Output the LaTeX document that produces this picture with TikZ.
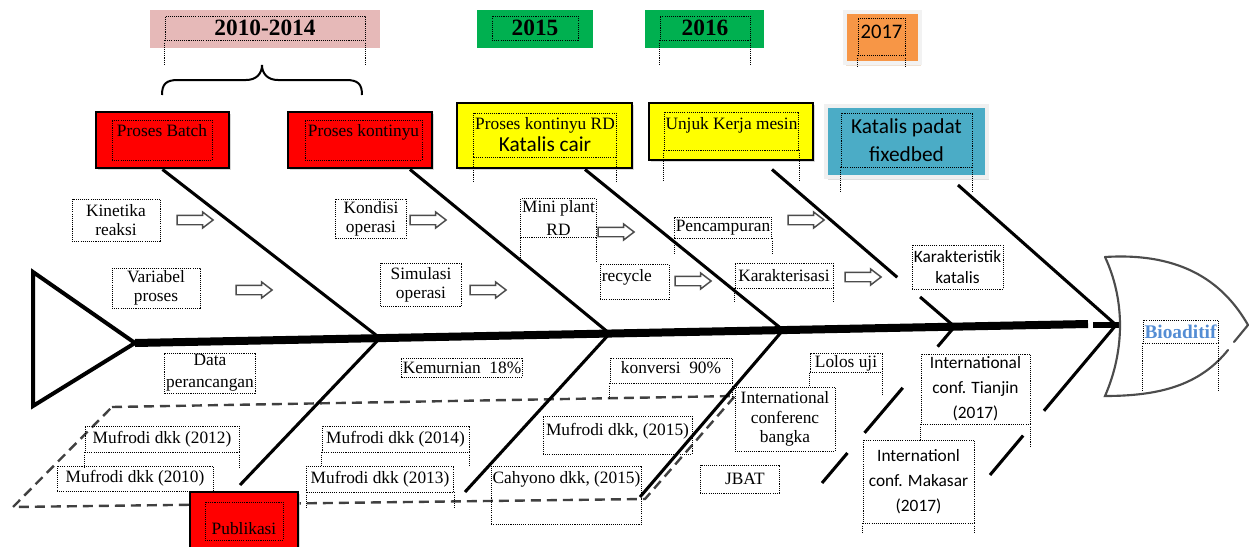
\documentclass[tikz,border=0pt]{standalone}
\usepackage{fontspec}
\setmainfont{Liberation Serif}
\newfontfamily\calfont{Carlito}
\usetikzlibrary{shapes.arrows, calc, shadows}

\definecolor{yrpink}{RGB}{230,185,184}
\definecolor{yrgreen}{RGB}{0,176,80}
\definecolor{yrorange}{RGB}{247,150,70}
\definecolor{catred}{RGB}{255,0,0}
\definecolor{catyellow}{RGB}{255,255,0}
\definecolor{catblue}{RGB}{75,172,198}
\definecolor{bioblue}{RGB}{84,141,212}

\begin{document}
\begin{tikzpicture}[x=0.75pt, y=-0.75pt,
    boxsz/.style 2 args={minimum width=#1*0.75pt, minimum height=#2*0.75pt},
    tbox/.style={draw, line width=0.6pt, dash pattern=on 0.8pt off 0.8pt, inner sep=1pt, align=center,
        font=\fontsize{13}{14.5}\selectfont},
    cbox/.style={tbox, font=\calfont\fontsize{13}{18.75}\selectfont},
    tdot/.style={line width=0.6pt, dash pattern=on 0.8pt off 0.8pt},
    catbox/.style={draw, line width=2.2pt, drop shadow={shadow xshift=1.3pt, shadow yshift=-1.3pt, fill=gray!45, opacity=0.7}},
    yrfont/.style={font=\fontsize{17.5}{20}\selectfont\bfseries},
    bone/.style={line width=2.3pt},
    harrow/.style={single arrow, draw=black!70, fill=white, line width=1.1pt, minimum height=27pt,
        inner sep=3pt, single arrow head extend=2.5pt, single arrow tip angle=75},
    pubdash/.style={line width=1.8pt, draw=black!75, dash pattern=on 7.5pt off 4.5pt},
    headln/.style={line width=1.6pt, draw=black!70, line cap=round},
    ]
    \useasboundingbox (0,0) rectangle (1249,546);

    % Publikasi region
    \coordinate (pg1) at (112,407);
    \coordinate (pg2) at (735,396);
    \coordinate (pg3) at (645,499);
    \coordinate (pg4) at (13,507);
    \draw[pubdash] (pg1) -- (pg2) -- (pg3) -- (pg4) -- cycle;

    % Year boxes
    \node[fill=yrpink, boxsz={230}{38}] (yr1bg) at (265,29) {};
    \node[tbox, yrfont, boxsz={200}{24}] (yr1) at (265,28) {2010-2014};
    \draw[tdot] (yr1.south west) -- ++(0,25) (yr1.south east) -- ++(0,25);
    \node[fill=yrgreen, boxsz={116}{38}] (yr2bg) at (535,29) {};
    \node[tbox, yrfont, boxsz={86}{24}] (yr2) at (535,28) {2015};
    \node[fill=yrgreen, boxsz={119}{38}] (yr3bg) at (704.5,29) {};
    \node[tbox, yrfont, boxsz={90}{24}] (yr3) at (705,28) {2016};
    \draw[tdot] (yr3.south west) -- ++(0,25) (yr3.south east) -- ++(0,25);
    \node[fill=yrorange, draw=gray!10, line width=3pt, boxsz={75}{51},
        drop shadow={shadow xshift=0.5pt, shadow yshift=-2.5pt, fill=brown!45}] (yr4bg) at (882.5,37.5) {};
    \node[tbox, font=\calfont\fontsize{15.5}{18}\selectfont, boxsz={47}{37}, text depth=6.8pt] (yr4) at (881.5,36.5) {2017};
    \draw[tdot] (yr4.south west) -- ++(0,11) (yr4.south east) -- ++(0,11);

    % brace over the first two boxes
    \draw[line width=1.5pt] (162,95) .. controls (162,84) and (166,80) .. (178,80) -- (246,80)
        .. controls (256,80) and (262,74) .. (262,65) .. controls (262,74) and (268,80) .. (278,80)
        -- (346,80) .. controls (358,80) and (362,84) .. (362,95);

    % Spine points
    \coordinate (tailtip) at (135,343);
    \coordinate (spend) at (1088,324);
    \coordinate (j1) at ($(tailtip)!0.257!(spend)$);
    \coordinate (j2) at ($(tailtip)!0.498!(spend)$);
    \coordinate (j3) at ($(tailtip)!0.680!(spend)$);
    \coordinate (j4) at ($(tailtip)!0.860!(spend)$);
    \coordinate (j5) at (1116,325);
    \coordinate (q1) at (240,485);
    \coordinate (q2) at (465,492);
    \coordinate (q3) at (640,497);
    \coordinate (q4) at (822,483);
    \coordinate (q5) at (990,475);

    % Category boxes
    \node[catbox, fill=catred, boxsz={133}{56}] (batch) at (162.5,140) {};
    \node[tbox, boxsz={100}{40}, text depth=15pt] (batchtx) at (162,140) {Proses Batch};
    \node[catbox, fill=catred, boxsz={144}{56}] (kont) at (360,140) {};
    \node[tbox, boxsz={117}{40}, text depth=15pt] (konttx) at (363.5,140) {Proses kontinyu};
    \node[catbox, fill=catyellow, boxsz={175}{65}] (rd) at (544.5,135.5) {};
    \node[tbox, boxsz={140}{44}] (rdtx) at (545,135) {Proses kontinyu RD\\[2pt]{\calfont\fontsize{16}{18}\selectfont Katalis cair}};
    \draw[tdot] (rdtx.south west) -- ++(0,24) (rdtx.south east) -- ++(0,24);
    \node[catbox, fill=catyellow, boxsz={164}{57}] (unjuk) at (731,131.5) {};
    \node[tbox, boxsz={131}{38}, text depth=12pt] (unjuktx) at (731.5,131) {Unjuk Kerja mesin};
    \draw[tdot] (unjuktx.south west) -- ++(0,31) (unjuktx.south east) -- ++(0,31);
    \node[fill=catblue, draw=gray!12, line width=3pt, boxsz={161}{71},
        drop shadow={shadow xshift=1.5pt, shadow yshift=-2.5pt, fill=gray!50}] (padat) at (906.5,141.5) {};
    \node[tbox, font=\calfont\fontsize{16}{21}\selectfont, boxsz={131}{54}] (padattx) at (906.5,140) {Katalis padat\\fixedbed};
    \draw[tdot] (padattx.south west) -- ++(0,25) (padattx.south east) -- ++(0,25);

    % Bones
    \draw[bone] (batch.south) -- (j1);
    \draw[bone] ([xshift=37.5pt]kont.south) -- (j2);
    \draw[bone] ([xshift=30.4pt]rd.south) -- (j3);
    \coordinate (u4) at ([xshift=30.75pt,yshift=-6pt]unjuk.south);
    \draw[bone] (u4) -- ($(u4)!0.686!(j4)$) ($(u4)!0.811!(j4)$) -- (j4);
    \draw[bone] ([xshift=38.6pt,yshift=-4.5pt]padat.south) -- (j5);
    \draw[bone] (j1) -- (q1);
    \draw[bone] (j2) -- (q2);
    \draw[bone] (j3) -- (q3);
    \draw[bone] (j4) -- ($(j4)!0.128!(q4)$) ($(j4)!0.391!(q4)$) -- ($(j4)!0.679!(q4)$) ($(j4)!0.808!(q4)$) -- (q4);
    \draw[bone] (j5) -- ($(j5)!0.572!(q5)$) ($(j5)!0.737!(q5)$) -- (q5);

    % Tail and spine
    \draw[line width=3pt, line join=miter] (33,272) -- (tailtip) -- (33,406) -- cycle;
    \draw[line width=6pt] (tailtip) -- (spend);
    \coordinate (nk1) at (1093,325);
    \coordinate (nk2) at (1120,325);
    \draw[line width=4.5pt] (nk1) -- (nk2);

    % Head
    \draw[headln] (1105,257) .. controls (1185,252) and (1225,285) .. (1248,325) -- (1234,342);
    \draw[headln] (1228,350) .. controls (1200,385) and (1160,396) .. (1105,396)
        .. controls (1125,350) and (1125,300) .. (1105,257);
    \node[tbox, font=\fontsize{14.5}{16}\selectfont\bfseries, text=bioblue, boxsz={75}{23}] (bio) at (1180.5,331.5) {Bioaditif};
    \draw[tdot] (bio.south west) -- ++(0,49) (bio.south east) -- ++(0,49);

    % Causes above the spine
    \node[tbox, boxsz={88}{42}] (kin) at (116,220) {Kinetika\\reaksi};
    \node[tbox, boxsz={88}{40}] (var) at (156,288) {Variabel\\proses};
    \node[tbox, boxsz={71}{39}] (kond) at (371,218.5) {Kondisi\\operasi};
    \node[tbox, boxsz={81}{43}] (sim) at (421,284.5) {Simulasi\\operasi};
    \node[tbox, boxsz={71}{39}] (mini) at (558.5,218) {Mini plant\\[2.5pt]RD};
    \draw[tdot] (mini.south west) -- ++(0,24) (mini.south east) -- ++(0,24);
    \node[tbox, boxsz={69}{35}, text width=49pt, align=left, text depth=9pt] (rec) at (634.5,281.5) {recycle};
    \node[tbox, boxsz={96}{21}] (pen) at (723,227.5) {Pencampuran};
    \draw[tdot] (pen.south west) -- ++(0,17) (pen.south east) -- ++(0,17);
    \node[tbox, boxsz={98}{25}] (kar) at (784,275.5) {Karakterisasi};
    \draw[tdot] (kar.south west) -- ++(0,13) (kar.south east) -- ++(0,13);
    \node[cbox, font=\calfont\fontsize{13}{15.75}\selectfont, boxsz={91}{44}] (kk) at (957.5,267) {Karakteristik\\katalis};

    % Hollow arrows
    \node[harrow] (ar1) at (192,220) {};
    \node[harrow] (ar2) at (251,290) {};
    \node[harrow] (ar3) at (425,220) {};
    \node[harrow] (ar4) at (485,290) {};
    \node[harrow] (ar5) at (613,232) {};
    \node[harrow] (ar6) at (690,281) {};
    \node[harrow] (ar7) at (803,220) {};
    \node[harrow] (ar8) at (860,277) {};

    % Results below the spine
    \node[tbox, boxsz={88}{40}] (data) at (210,373) {Data\\[2pt]perancangan};
    \node[tbox, boxsz={118}{19}] (kem) at (462,367.5) {Kemurnian~~18\%};
    \node[tbox, boxsz={122}{25}, text depth=4.5pt] (konv) at (671,370.5) {konversi~~90\%};
    \draw[tdot] (konv.south west) -- ++(0,15) (konv.south east) -- ++(0,15);
    \node[tbox, boxsz={72}{18}] (lolos) at (846,363) {Lolos uji};
    \draw[tdot] (lolos.south west) -- ++(0,15) (lolos.south east) -- ++(0,23);
    \node[tbox, fill=white, boxsz={100}{64}] (bangka) at (785,419) {International\\conferenc\\bangka};
    \node[cbox, fill=white, boxsz={109}{70}] (tianjin) at (975.5,389) {International\\conf. Tianjin\\(2017)};
    \draw[tdot] (tianjin.south west) -- ++(0,23) (tianjin.south east) -- ++(0,23);
    \node[cbox, fill=white, boxsz={111}{83}] (makasar) at (918.5,481.5) {Internationl\\conf. Makasar\\(2017)};
    \draw[tdot] (makasar.south west) -- ++(0,10) (makasar.south east) -- ++(0,10);

    % Publications
    \node[tbox, boxsz={154}{26}] (m12) at (162,439) {Mufrodi dkk (2012)};
    \draw[tdot] (m12.south west) -- ++(0,15) (m12.south east) -- ++(0,15);
    \node[tbox, boxsz={156}{25}] (m10) at (135,478.5) {Mufrodi dkk (2010)};
    \node[tbox, boxsz={147}{26}] (m14) at (395.5,439) {Mufrodi dkk (2014)};
    \draw[tdot] (m14.south west) -- ++(0,14) (m14.south east) -- ++(0,14);
    \node[tbox, boxsz={147}{26}] (m13) at (380,479) {Mufrodi dkk (2013)};
    \draw[tdot] (m13.south west) -- ++(0,15) (m13.south east) -- ++(0,15);
    \node[tbox, boxsz={149}{38}, text depth=9pt] (m15) at (617.5,435) {Mufrodi dkk, (2015)};
    \node[tbox, boxsz={147}{58}, text depth=26pt] (cah) at (566.5,495) {Cahyono dkk, (2015)};
    \node[tbox, boxsz={79}{28}] (jbat) at (739.5,479) {\hspace*{8pt}JBAT};
    \node[catbox, fill=catred, boxsz={108}{70}] (publ) at (244,527) {};
    \node[tbox, boxsz={78}{38}, text height=21pt] (publtx) at (244,521) {Publikasi};
\end{tikzpicture}
\end{document}
